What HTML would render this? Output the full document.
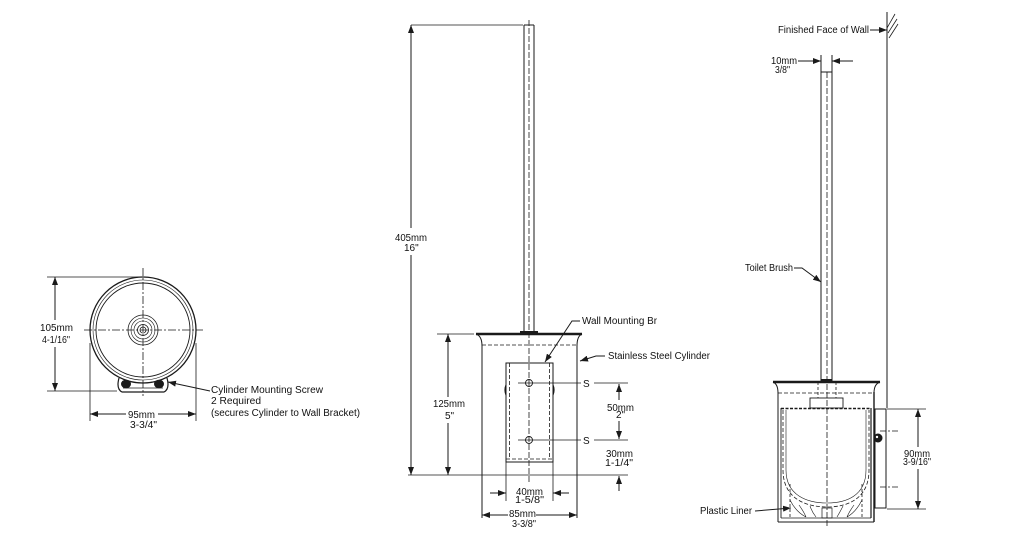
<!DOCTYPE html>
<html><head><meta charset="utf-8"><style>
html,body{margin:0;padding:0;background:#fff;}
svg{display:block;}
text{font-family:"Liberation Sans",Arial,sans-serif;font-size:10px;fill:#111;}
</style></head><body>
<svg width="1025" height="550" viewBox="0 0 1025 550" xmlns="http://www.w3.org/2000/svg">
<defs>
<marker id="a" markerUnits="userSpaceOnUse" markerWidth="8" markerHeight="6" refX="8" refY="3" orient="auto">
<path d="M0,0 L8,3 L0,6 z" fill="#1a1a1a"/>
</marker>
</defs>
<g stroke="#1a1a1a" stroke-width="1" fill="none">
<!-- ============ LEFT VIEW ============ -->
<circle cx="143" cy="330" r="53" stroke-width="1.3"/>
<circle cx="143" cy="330" r="50" stroke-width="0.6"/>
<circle cx="143" cy="330" r="47" stroke-width="0.9"/>
<circle cx="143" cy="330" r="15" stroke-width="0.8"/>
<circle cx="143" cy="330" r="12" stroke-width="0.6"/>
<circle cx="143" cy="330" r="9" stroke-width="0.6"/>
<circle cx="143" cy="330" r="5.5" stroke-width="0.8"/>
<circle cx="143" cy="330" r="3" stroke-width="0.8"/>
<line x1="84" y1="330" x2="203" y2="330" stroke-dasharray="8 2 2 2" stroke-width="0.8"/>
<line x1="143" y1="268" x2="143" y2="396" stroke-dasharray="8 2 2 2" stroke-width="0.8"/>
<!-- bracket -->
<path d="M119,378 Q116,389 122,392 L164,392 Q170,389 167,378" stroke-width="1.2"/>
<line x1="123" y1="388" x2="163" y2="388" stroke-width="0.7"/>
<ellipse cx="126" cy="384" rx="4.5" ry="3.8" fill="#1a1a1a"/>
<ellipse cx="159" cy="384" rx="4.5" ry="3.8" fill="#1a1a1a"/>
<!-- dims -->
<line x1="47" y1="277" x2="140" y2="277" stroke-width="0.8"/>
<line x1="47" y1="391" x2="117" y2="391" stroke-width="0.8"/>
<line x1="55" y1="320" x2="55" y2="277" marker-end="url(#a)"/>
<line x1="55" y1="347" x2="55" y2="391" marker-end="url(#a)"/>
<line x1="90" y1="343" x2="90" y2="421" stroke-width="0.8"/>
<line x1="196" y1="343" x2="196" y2="421" stroke-width="0.8"/>
<line x1="126" y1="414" x2="90" y2="414" marker-end="url(#a)"/>
<line x1="158" y1="414" x2="196" y2="414" marker-end="url(#a)"/>
<line x1="210" y1="391" x2="168" y2="382" marker-end="url(#a)"/>

<!-- ============ MIDDLE VIEW ============ -->
<line x1="524" y1="25" x2="524" y2="331"/>
<line x1="534" y1="25" x2="534" y2="331"/>
<line x1="524" y1="25" x2="534" y2="25"/>
<line x1="529" y1="20" x2="529" y2="482" stroke-dasharray="6 2" stroke-width="0.8"/>
<line x1="411" y1="25" x2="523" y2="25" stroke-width="0.8"/>
<line x1="411" y1="228" x2="411" y2="25" marker-end="url(#a)"/>
<line x1="411" y1="255" x2="411" y2="475" marker-end="url(#a)"/>
<line x1="408" y1="475" x2="628" y2="475" stroke-width="0.8"/>
<rect x="520" y="331" width="18" height="3" fill="#1a1a1a" stroke="none"/>
<line x1="476" y1="334" x2="582" y2="334" stroke-width="2.6"/>
<path d="M476,334 Q482,336 482,346" stroke-width="1"/>
<path d="M582,334 Q577,336 577,346" stroke-width="1"/>
<line x1="482" y1="345" x2="482" y2="518"/>
<line x1="577" y1="345" x2="577" y2="518"/>
<line x1="482" y1="345" x2="577" y2="345" stroke-dasharray="4 2" stroke-width="0.8"/>
<!-- 125 dim -->
<line x1="437" y1="334" x2="474" y2="334" stroke-width="0.8"/>
<line x1="448" y1="397" x2="448" y2="334" marker-end="url(#a)"/>
<line x1="448" y1="423" x2="448" y2="475" marker-end="url(#a)"/>
<!-- bracket -->
<rect x="506" y="363" width="47" height="99" stroke-width="1"/>
<line x1="509.5" y1="363" x2="509.5" y2="459" stroke-dasharray="4 2" stroke-width="0.8"/>
<line x1="549.5" y1="363" x2="549.5" y2="459" stroke-dasharray="4 2" stroke-width="0.8"/>
<line x1="506" y1="459" x2="553" y2="459" stroke-dasharray="4 2" stroke-width="0.8"/>
<path d="M506,385 Q504,390 506,395" stroke-width="1.2"/>
<path d="M553,385 Q555,390 553,395" stroke-width="1.2"/>
<circle cx="529" cy="383" r="3.5" stroke-width="0.9"/>
<circle cx="529" cy="440" r="3.5" stroke-width="0.9"/>
<line x1="518" y1="383" x2="581" y2="383" stroke-width="0.8"/>
<line x1="518" y1="440" x2="581" y2="440" stroke-width="0.8"/>
<line x1="594" y1="383" x2="628" y2="383" stroke-width="0.8"/>
<line x1="594" y1="440" x2="628" y2="440" stroke-width="0.8"/>
<line x1="619" y1="400" x2="619" y2="384" marker-end="url(#a)"/>
<line x1="619" y1="421" x2="619" y2="439" marker-end="url(#a)"/>
<line x1="619" y1="491" x2="619" y2="476" marker-end="url(#a)"/>
<!-- 40 dim -->
<line x1="506" y1="462" x2="506" y2="501" stroke-width="0.8"/>
<line x1="553" y1="462" x2="553" y2="501" stroke-width="0.8"/>
<line x1="490" y1="493" x2="506" y2="493" marker-end="url(#a)"/>
<line x1="569" y1="493" x2="553" y2="493" marker-end="url(#a)"/>
<!-- 85 dim -->
<line x1="508" y1="515" x2="482" y2="515" marker-end="url(#a)"/>
<line x1="536" y1="515" x2="577" y2="515" marker-end="url(#a)"/>
<!-- leaders -->
<polyline points="580,321 572,321 545,362" marker-end="url(#a)"/>
<polyline points="605,356 596,356 580,361" marker-end="url(#a)"/>

<!-- ============ RIGHT VIEW ============ -->
<line x1="887" y1="12" x2="887" y2="408"/>
<line x1="887" y1="28" x2="895" y2="14" stroke-width="0.8"/>
<line x1="888" y1="33" x2="897" y2="19" stroke-width="0.8"/>
<line x1="889" y1="38" x2="898" y2="24" stroke-width="0.8"/>
<line x1="870" y1="30" x2="887" y2="30" marker-end="url(#a)"/>
<!-- rod -->
<line x1="821" y1="55" x2="821" y2="381"/>
<line x1="832" y1="55" x2="832" y2="381"/>
<line x1="821" y1="72" x2="832" y2="72"/>
<line x1="827" y1="72" x2="827" y2="528" stroke-dasharray="6 2" stroke-width="0.8"/>
<line x1="798" y1="61" x2="821" y2="61" marker-end="url(#a)"/>
<line x1="853" y1="61" x2="832" y2="61" marker-end="url(#a)"/>
<!-- cylinder -->
<rect x="821" y="379" width="11" height="3" fill="#1a1a1a" stroke="none"/>
<line x1="773" y1="382" x2="880" y2="382" stroke-width="2.4"/>
<path d="M773,382 Q778,384 778,393"/>
<path d="M880,382 Q874,384 874,393"/>
<line x1="778" y1="392" x2="778" y2="522"/>
<line x1="874" y1="392" x2="874" y2="522" stroke-width="1.4"/>
<line x1="778" y1="522" x2="874" y2="522"/>
<line x1="781" y1="518" x2="871" y2="518" stroke-width="0.7"/>
<line x1="781" y1="408" x2="781" y2="518" stroke-width="0.9"/>
<line x1="871" y1="408" x2="871" y2="518" stroke-width="1.2"/>
<line x1="778" y1="393" x2="874" y2="393" stroke-dasharray="4 2" stroke-width="0.8"/>
<line x1="818" y1="382" x2="818" y2="398" stroke-dasharray="3 2" stroke-width="0.8"/>
<line x1="836" y1="382" x2="836" y2="398" stroke-dasharray="3 2" stroke-width="0.8"/>
<rect x="810" y="398" width="33" height="10" stroke-width="0.9"/>
<line x1="781" y1="408.5" x2="871" y2="408.5" stroke-dasharray="3 1.5" stroke-width="1.4"/>
<path d="M783,410 L783,470 C783,500 808,507 827,507 C846,507 869,500 869,470 L869,410" stroke-dasharray="4 2" stroke-width="0.8"/>
<path d="M786,410 L786,470 C786,496 808,503 827,503 C846,503 866,496 866,470 L866,410" stroke-width="0.6"/>
<line x1="790" y1="484" x2="790" y2="518" stroke-dasharray="3 2" stroke-width="0.8"/>
<line x1="862" y1="484" x2="862" y2="518" stroke-dasharray="3 2" stroke-width="0.8"/>
<path d="M790,500 Q796,512 806,517 M799,505 Q804,512 806,517 M810,506 Q812,512 816,517 M843,506 Q840,512 837,517 M854,505 Q849,512 847,517 M862,500 Q856,512 847,517" stroke-width="0.6"/>
<rect x="822" y="508" width="10" height="10" stroke-width="0.7"/>
<!-- wall bracket -->
<rect x="875" y="409" width="11" height="99" stroke-width="1"/>
<circle cx="878" cy="438" r="4" fill="#1a1a1a"/>
<circle cx="877" cy="437" r="1.2" fill="#fff" stroke="none"/>
<line x1="880" y1="431" x2="898" y2="431" stroke-dasharray="6 2 2 2" stroke-width="0.8"/>
<line x1="880" y1="487" x2="898" y2="487" stroke-dasharray="6 2 2 2" stroke-width="0.8"/>
<!-- 90 dim -->
<line x1="887" y1="409" x2="926" y2="409" stroke-width="0.8"/>
<line x1="887" y1="509" x2="926" y2="509" stroke-width="0.8"/>
<line x1="918" y1="447" x2="918" y2="409" marker-end="url(#a)"/>
<line x1="918" y1="469" x2="918" y2="509" marker-end="url(#a)"/>
<!-- leaders -->
<polyline points="794,268 802,268 821,282" marker-end="url(#a)"/>
<line x1="755" y1="511" x2="791" y2="508" marker-end="url(#a)"/>
</g>

<!-- ============ TEXT ============ -->
<text x="40" y="331" textLength="33" lengthAdjust="spacingAndGlyphs">105mm</text>
<text x="42" y="343" textLength="28" lengthAdjust="spacingAndGlyphs">4-1/16"</text>
<text x="128" y="418" textLength="27" lengthAdjust="spacingAndGlyphs">95mm</text>
<text x="130" y="428" textLength="27" lengthAdjust="spacingAndGlyphs">3-3/4"</text>
<text x="211" y="393" textLength="112" lengthAdjust="spacingAndGlyphs">Cylinder Mounting Screw</text>
<text x="211" y="404" textLength="50" lengthAdjust="spacingAndGlyphs">2 Required</text>
<text x="211" y="416" textLength="149" lengthAdjust="spacingAndGlyphs">(secures Cylinder to Wall Bracket)</text>

<text x="395" y="241" textLength="32" lengthAdjust="spacingAndGlyphs">405mm</text>
<text x="404" y="251" font-size="9">16"</text>
<text x="433" y="407" textLength="32" lengthAdjust="spacingAndGlyphs">125mm</text>
<text x="445" y="419">5"</text>
<text x="607" y="411" textLength="27" lengthAdjust="spacingAndGlyphs">50mm</text>
<text x="616" y="418" font-size="8">2"</text>
<text x="606" y="457" textLength="27" lengthAdjust="spacingAndGlyphs">30mm</text>
<text x="605" y="466" textLength="28" lengthAdjust="spacingAndGlyphs">1-1/4"</text>
<text x="516" y="495" textLength="27" lengthAdjust="spacingAndGlyphs">40mm</text>
<text x="515" y="503" textLength="29" lengthAdjust="spacingAndGlyphs" font-size="9">1-5/8"</text>
<text x="509" y="517" textLength="27" lengthAdjust="spacingAndGlyphs">85mm</text>
<text x="512" y="527" textLength="24" lengthAdjust="spacingAndGlyphs" font-size="9">3-3/8"</text>
<text x="583" y="387">S</text>
<text x="583" y="444">S</text>
<text x="582" y="324" textLength="75" lengthAdjust="spacingAndGlyphs">Wall Mounting Br</text>
<text x="608" y="359" textLength="102" lengthAdjust="spacingAndGlyphs">Stainless Steel Cylinder</text>

<text x="778" y="33" textLength="91" lengthAdjust="spacingAndGlyphs">Finished Face of Wall</text>
<text x="771" y="64" textLength="26" lengthAdjust="spacingAndGlyphs">10mm</text>
<text x="775" y="73" textLength="15" lengthAdjust="spacingAndGlyphs" font-size="9">3/8"</text>
<text x="745" y="271" textLength="48" lengthAdjust="spacingAndGlyphs">Toilet Brush</text>
<text x="904" y="457" textLength="26" lengthAdjust="spacingAndGlyphs">90mm</text>
<text x="903" y="465" textLength="28" lengthAdjust="spacingAndGlyphs" font-size="9">3-9/16"</text>
<text x="700" y="514" textLength="52" lengthAdjust="spacingAndGlyphs">Plastic Liner</text>
</svg>
</body></html>
